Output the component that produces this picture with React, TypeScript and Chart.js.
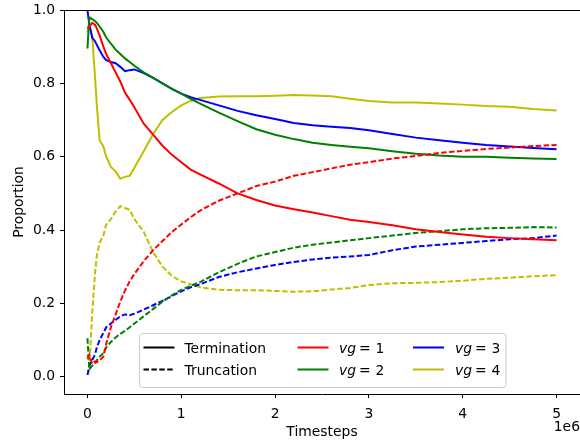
import React, { useEffect, useRef } from "react";
import { Chart, registerables } from "chart.js";
Chart.register(...registerables);

// Timesteps in millions (1e6)
const steps = [0, 0.02, 0.05, 0.08, 0.1, 0.13, 0.17, 0.2, 0.25, 0.3, 0.35, 0.4, 0.45, 0.5, 0.6, 0.7, 0.8, 0.9, 1.0, 1.1, 1.2, 1.4, 1.6, 1.8, 2.0, 2.2, 2.4, 2.6, 2.8, 3.0, 3.25, 3.5, 3.75, 4.0, 4.25, 4.5, 4.75, 5.0];

const termVg1 = [0.95, 0.955, 0.965, 0.96, 0.95, 0.93, 0.9, 0.88, 0.855, 0.83, 0.805, 0.775, 0.755, 0.735, 0.69, 0.66, 0.63, 0.605, 0.585, 0.565, 0.552, 0.527, 0.5, 0.482, 0.467, 0.457, 0.448, 0.438, 0.428, 0.422, 0.413, 0.402, 0.395, 0.388, 0.382, 0.378, 0.375, 0.372];
const truncVg1 = [0.05, 0.06, 0.035, 0.042, 0.04, 0.045, 0.055, 0.09, 0.135, 0.17, 0.205, 0.235, 0.26, 0.28, 0.315, 0.345, 0.37, 0.395, 0.415, 0.435, 0.453, 0.48, 0.5, 0.52, 0.532, 0.548, 0.558, 0.568, 0.578, 0.585, 0.595, 0.602, 0.61, 0.616, 0.621, 0.625, 0.629, 0.632];
const termVg2 = [0.895, 0.98, 0.975, 0.97, 0.965, 0.955, 0.94, 0.925, 0.908, 0.892, 0.88, 0.868, 0.858, 0.848, 0.83, 0.815, 0.8, 0.785, 0.772, 0.758, 0.745, 0.72, 0.697, 0.675, 0.66, 0.648, 0.638, 0.632, 0.627, 0.623, 0.615, 0.608, 0.603, 0.6, 0.6, 0.597, 0.595, 0.594];
const truncVg2 = [0.105, 0.02, 0.03, 0.035, 0.045, 0.055, 0.065, 0.08, 0.095, 0.107, 0.117, 0.125, 0.135, 0.145, 0.165, 0.185, 0.205, 0.222, 0.237, 0.248, 0.258, 0.285, 0.308, 0.328, 0.34, 0.352, 0.36, 0.366, 0.372, 0.378, 0.385, 0.392, 0.397, 0.402, 0.405, 0.406, 0.408, 0.407];
const termVg3 = [1.0, 0.96, 0.925, 0.915, 0.905, 0.89, 0.872, 0.863, 0.858, 0.855, 0.845, 0.833, 0.836, 0.838, 0.828, 0.815, 0.8, 0.785, 0.772, 0.762, 0.755, 0.74, 0.725, 0.713, 0.703, 0.692, 0.686, 0.682, 0.678, 0.672, 0.662, 0.652, 0.645, 0.638, 0.632, 0.628, 0.624, 0.62];
const truncVg3 = [0.005, 0.03, 0.045, 0.06, 0.08, 0.1, 0.12, 0.135, 0.145, 0.155, 0.165, 0.17, 0.168, 0.172, 0.183, 0.195, 0.207, 0.22, 0.233, 0.244, 0.252, 0.272, 0.285, 0.295, 0.305, 0.313, 0.32, 0.325, 0.328, 0.332, 0.345, 0.355, 0.36, 0.365, 0.37, 0.375, 0.378, 0.385];
const termVg4 = [0.94, 0.965, 0.93, 0.82, 0.74, 0.645, 0.628, 0.6, 0.572, 0.56, 0.54, 0.545, 0.548, 0.57, 0.615, 0.662, 0.7, 0.722, 0.74, 0.752, 0.76, 0.764, 0.765, 0.765, 0.766, 0.768, 0.767, 0.765, 0.758, 0.752, 0.748, 0.748, 0.745, 0.742, 0.738, 0.736, 0.73, 0.726];
const truncVg4 = [0.06, 0.03, 0.17, 0.28, 0.33, 0.365, 0.385, 0.415, 0.43, 0.45, 0.465, 0.46, 0.455, 0.43, 0.395, 0.34, 0.3, 0.275, 0.26, 0.252, 0.244, 0.237, 0.236, 0.236, 0.234, 0.232, 0.233, 0.238, 0.242, 0.25, 0.255, 0.256, 0.258, 0.262, 0.267, 0.27, 0.274, 0.277];

const xTicks = [0, 1, 2, 3, 4, 5];
const yTicks = [0.0, 0.2, 0.4, 0.6, 0.8, 1.0];
const vgLabels = ["1", "2", "3", "4"];
const vgColors = ["#ff0000", "#008000", "#0000ff", "#bfbf00"];
const styleLabels = ["Termination", "Truncation"];

const FONT = '"DejaVu Sans", sans-serif';
const FS = 13.9;
const DASH = [5.5, 2.4];

const decorPlugin = {
  id: "mplDecor",
  afterDraw(chart: any) {
    const { ctx, chartArea: a } = chart;
    ctx.save();
    // top spine
    ctx.strokeStyle = "#000";
    ctx.lineWidth = 1;
    ctx.beginPath();
    ctx.moveTo(a.left, Math.round(a.top) + 0.5);
    ctx.lineTo(a.right, Math.round(a.top) + 0.5);
    ctx.stroke();

    // axis titles
    ctx.fillStyle = "#000";
    ctx.font = `${FS}px ${FONT}`;
    ctx.textBaseline = "alphabetic";
    ctx.textAlign = "center";
    ctx.fillText("Timesteps", (a.left + a.right) / 2, 436);
    ctx.textAlign = "right";
    ctx.fillText("1e6", 580, 431);
    ctx.save();
    ctx.translate(23, (a.top + a.bottom) / 2);
    ctx.rotate(-Math.PI / 2);
    ctx.textAlign = "center";
    ctx.fillText("Proportion", 0, 0);
    ctx.restore();

    // legend
    const bx = 139.5, by = 333.5, bw = 366.5, bh = 54;
    ctx.beginPath();
    ctx.roundRect(bx, by, bw, bh, 3);
    ctx.fillStyle = "rgba(255,255,255,0.8)";
    ctx.fill();
    ctx.strokeStyle = "#cccccc";
    ctx.lineWidth = 1;
    ctx.stroke();

    const rows = [347.5, 369.5];
    const handle = (x0: number, y: number, color: string, dashed: boolean) => {
      ctx.save();
      ctx.strokeStyle = color;
      ctx.lineWidth = 2;
      ctx.setLineDash(dashed ? DASH : []);
      ctx.beginPath();
      ctx.moveTo(x0, y);
      ctx.lineTo(x0 + 31, y);
      ctx.stroke();
      ctx.restore();
    };
    ctx.textAlign = "left";
    ctx.textBaseline = "alphabetic";
    ctx.fillStyle = "#000";
    styleLabels.forEach((lab, i) => {
      handle(143.5, rows[i], "#000", i === 1);
      ctx.font = `${FS}px ${FONT}`;
      ctx.fillText(lab, 184.5, rows[i] + 5);
    });
    const colX = [297.5, 413];
    const textX = [339, 455];
    vgLabels.forEach((lab, i) => {
      const col = Math.floor(i / 2);
      const row = i % 2;
      handle(colX[col], rows[row], vgColors[i], false);
      const ty = rows[row] + 5;
      const x = textX[col];
      ctx.font = `italic ${FS}px ${FONT}`;
      ctx.fillText("vg", x, ty);
      ctx.font = `${FS}px ${FONT}`;
      ctx.fillText("=", x + 20, ty);
      ctx.fillText(lab, x + 36.5, ty);
    });
    ctx.restore();
  },
};

function makeData(arr: number[]) {
  return steps.map((s, i) => ({ x: s * 1e6, y: arr[i] }));
}

export default function App() {
  const ref = useRef<HTMLCanvasElement>(null);
  useEffect(() => {
    if (!ref.current) return;
    const term = [termVg1, termVg2, termVg3, termVg4];
    const trunc = [truncVg1, truncVg2, truncVg3, truncVg4];
    const datasets: any[] = [];
    for (let i = 0; i < 4; i++) {
      datasets.push({
        label: `term vg=${vgLabels[i]}`,
        data: makeData(term[i]),
        borderColor: vgColors[i],
        borderWidth: 2,
        pointRadius: 0,
        tension: 0,
        fill: false,
      });
      datasets.push({
        label: `trunc vg=${vgLabels[i]}`,
        data: makeData(trunc[i]),
        borderColor: vgColors[i],
        borderWidth: 2,
        borderDash: DASH,
        pointRadius: 0,
        tension: 0,
        fill: false,
      });
    }
    const chart = new Chart(ref.current, {
      type: "line",
      data: { datasets },
      options: {
        animation: false,
        responsive: false,
        events: [],
        layout: { padding: { top: 10, right: 0, left: 0, bottom: 0 } },
        plugins: { legend: { display: false }, tooltip: { enabled: false }, title: { display: false } },
        scales: {
          x: {
            type: "linear",
            min: -0.25e6,
            max: 5.25e6,
            afterFit: (s: any) => { s.height = 50; s.paddingLeft = 0; s.paddingRight = 0; },
            afterBuildTicks: (s: any) => { s.ticks = xTicks.map((v) => ({ value: v * 1e6 })); },
            ticks: {
              color: "#000",
              font: { family: FONT, size: FS },
              padding: 8,
              maxRotation: 0,
              callback: (v: any) => String(Number(v) / 1e6),
            },
            grid: { drawOnChartArea: false, drawTicks: true, tickLength: 4, color: "#000", lineWidth: 1 },
            border: { display: true, color: "#000", width: 1 },
          },
          y: {
            type: "linear",
            min: -0.047,
            max: 1.0,
            afterFit: (s: any) => { s.width = 64; s.paddingTop = 0; s.paddingBottom = 0; },
            afterBuildTicks: (s: any) => { s.ticks = yTicks.map((v) => ({ value: v })); },
            ticks: {
              color: "#000",
              font: { family: FONT, size: FS },
              padding: 5,
              callback: (v: any) => Number(v).toFixed(1),
            },
            grid: { drawOnChartArea: false, drawTicks: true, tickLength: 4, color: "#000", lineWidth: 1 },
            border: { display: true, color: "#000", width: 1 },
          },
        },
      },
      plugins: [decorPlugin],
    });
    return () => chart.destroy();
  }, []);
  return (
    <div style={{ position: "fixed", left: 0, top: 0, width: 580, height: 444, background: "#fff" }}>
      <canvas ref={ref} width={580} height={444} style={{ display: "block" }} />
    </div>
  );
}
